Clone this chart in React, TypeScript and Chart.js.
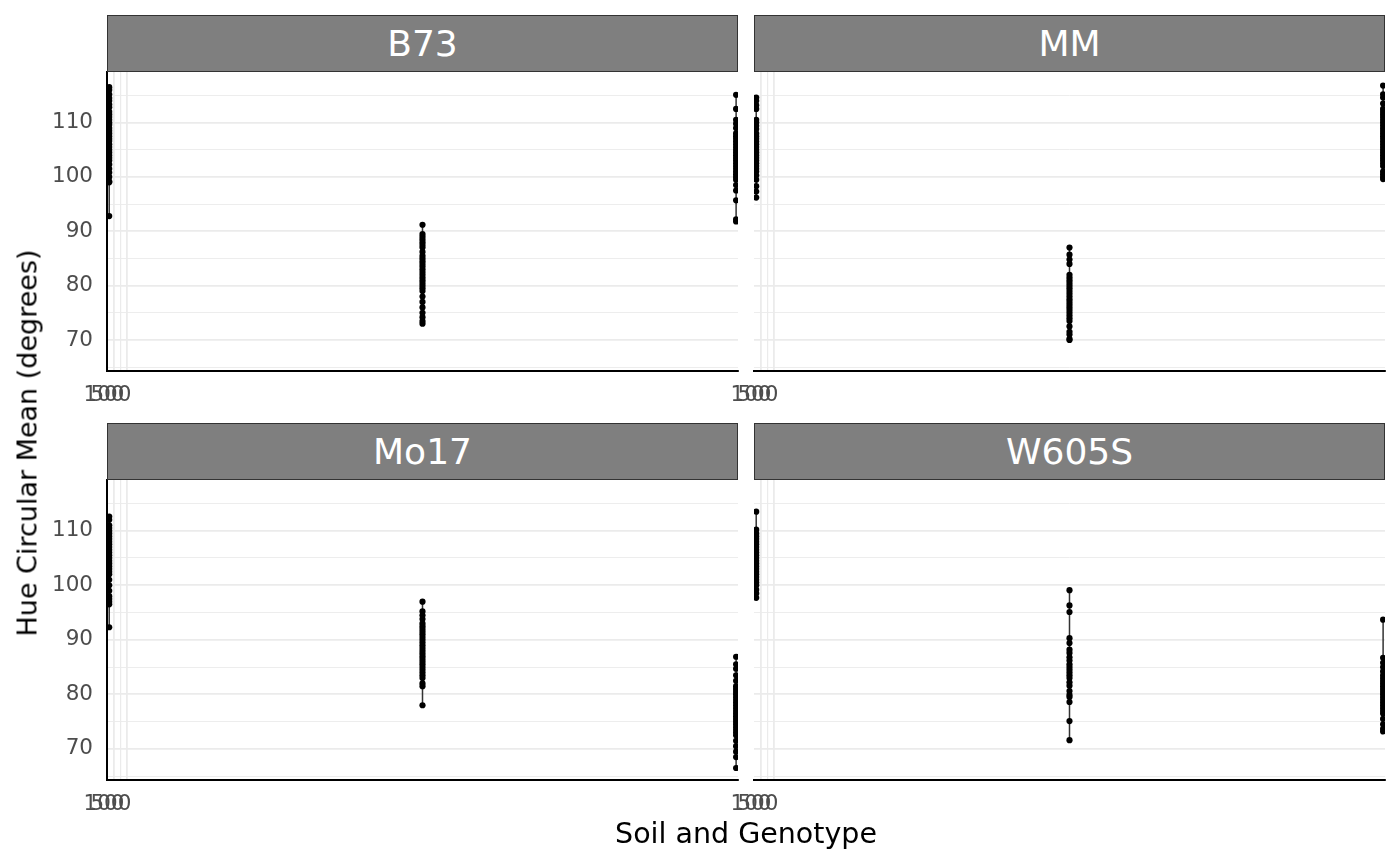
import { useEffect, useRef } from "react";
import { Chart, registerables } from "chart.js";

Chart.register(...registerables);

// ---------- data ----------
const genotypes = ["B73", "MM", "Mo17", "W605S"];
const groupPositions = [3.5, 500, 997];
const groupColors = ["#440154", "#21908C", "#FDE725"];

const yMin = 64.3;
const yMax = 119.3;
const yTickValues = [65, 70, 75, 80, 85, 90, 95, 100, 105, 110, 115];
const yTickLabels = ["", "70", "", "80", "", "90", "", "100", "", "110", ""];

const xMin = 0;
const xMax = 1000;
const xTickValues = [0, 11, 21.4, 31.7];
const xTickLabels = ["100", "500", "", ""];

const b73Left = [116.5, 116, 115.2, 114.5, 114, 113.3, 112.8, 112, 111.5, 111, 110.5, 110, 109.6, 109, 108.5, 108, 107.5, 107, 106.6, 106, 105.5, 105, 104.5, 104, 103.5, 103, 102.3, 101.5, 100.8, 100, 99.2, 99, 92.8];
const b73Mid = [91.2, 89.5, 89, 88.5, 88, 87.5, 87, 86.2, 85.5, 85, 84.5, 84, 83.5, 83, 82.5, 82, 81.5, 81, 80.5, 80, 79.5, 79, 78, 77, 76, 75, 74.2, 73.5, 73];
const b73Right = [115.1, 112.5, 110.5, 109.8, 109, 108, 107.5, 107, 106.5, 106, 105.5, 105, 104.5, 104, 103.5, 103, 102.5, 102, 101.5, 101, 100.5, 100, 99.5, 98.5, 97.5, 95.7, 92.2, 91.8];

const mmLeft = [114.6, 114, 113.2, 112.5, 110.5, 110, 109.4, 108.8, 108, 107.5, 107, 106.5, 106, 105.5, 105, 104.5, 104, 103.5, 103, 102.5, 102, 101.5, 101, 100.3, 99.5, 98.3, 97.3, 96.2];
const mmMid = [87, 85.7, 84.8, 84, 82, 81.5, 81, 80.5, 80, 79.5, 79, 78.5, 78, 77.5, 77, 76.5, 76, 75.5, 75, 74.5, 74, 73.5, 72.5, 71.5, 71, 70.2, 70];
const mmRight = [116.8, 115.2, 114.6, 113.5, 112.5, 112, 111.5, 111, 110.5, 110, 109.5, 109, 108.5, 108, 107.5, 107, 106.5, 106, 105.5, 105, 104.5, 104, 103.5, 103, 102.5, 102, 101, 100.5, 100, 99.6];

const mo17Left = [112.6, 112, 111, 110.5, 110, 109.5, 109, 108.5, 108, 107.5, 107, 106.5, 106, 105.5, 105, 104.5, 104, 103.5, 103, 102.5, 102, 101, 100, 99, 98, 97.5, 97, 96.5, 92.3];
const mo17Mid = [97, 95.2, 94.5, 93.8, 93, 92.5, 92, 91.5, 91, 90.5, 90, 89.5, 89, 88.5, 88, 87.5, 87, 86.5, 86, 85.5, 85, 84.5, 84, 83.5, 83, 82, 81.5, 78];
const mo17Right = [86.9, 85.5, 84.7, 83.5, 82.5, 81.5, 81, 80.5, 80, 79.5, 79, 78.5, 78, 77.5, 77, 76.5, 76, 75.5, 75, 74.5, 74, 73.5, 73, 72.5, 71.5, 70.5, 69.5, 68.5, 66.5];

const w605sLeft = [113.5, 110.2, 109.5, 109, 108.5, 108, 107.5, 107, 106.5, 106, 105.5, 105, 104.5, 104, 103.5, 103, 102.5, 102, 101.5, 101, 100.5, 100, 99.2, 98.5, 97.7];
const w605sMid = [99.1, 96.3, 95.1, 90.3, 89.4, 88.2, 87.6, 86.8, 86.2, 85.5, 85, 84.5, 84, 83.5, 83, 82.2, 81.6, 80.6, 79.9, 79.5, 78.6, 75.1, 71.6];
const w605sRight = [93.7, 86.7, 85.8, 85, 84.2, 83.5, 83, 82.5, 82, 81.5, 81, 80.5, 80, 79.5, 79, 78.5, 78, 77.5, 77, 76.5, 75.5, 74.5, 73.7, 73.2];

const panelGroups = [
  [b73Left, b73Mid, b73Right],
  [mmLeft, mmMid, mmRight],
  [mo17Left, mo17Mid, mo17Right],
  [w605sLeft, w605sMid, w605sRight],
];

// ---------- helpers ----------
function quantile(values: number[], p: number) {
  const s = [...values].sort((a, b) => a - b);
  const h = (s.length - 1) * p;
  const lo = Math.floor(h);
  const hi = Math.ceil(h);
  return s[lo] + (s[hi] - s[lo]) * (h - lo);
}

const FONT = "'DejaVu Sans', 'Liberation Sans', sans-serif";

type PanelProps = {
  index: number;
  left: number;
  top: number;
  width: number;
  height: number;
  padding: { left: number; right: number; top: number; bottom: number };
  showY: boolean;
};

function Panel({ index, left, top, width, height, padding, showY }: PanelProps) {
  const ref = useRef<HTMLCanvasElement | null>(null);

  useEffect(() => {
    if (!ref.current) return;
    const groups = panelGroups[index];
    const points: { x: number; y: number }[] = [];
    const boxes: { x: number; y: number[] }[] = [];
    const whiskers: { x: number; y: number | null }[] = [];
    groups.forEach((vals, g) => {
      vals.forEach((v) => points.push({ x: groupPositions[g], y: v }));
      boxes.push({ x: groupPositions[g], y: [quantile(vals, 0.25), quantile(vals, 0.75)] });
      whiskers.push({ x: groupPositions[g], y: Math.min(...vals) });
      whiskers.push({ x: groupPositions[g], y: Math.max(...vals) });
      whiskers.push({ x: groupPositions[g], y: null });
    });

    const chart = new Chart(ref.current, {
      type: "scatter",
      data: {
        datasets: [
          {
            type: "scatter",
            data: points,
            pointRadius: 3.1,
            pointBackgroundColor: "#000000",
            pointBorderWidth: 0,
            clip: 0,
            order: 0,
          } as any,
          {
            type: "bar",
            data: boxes,
            backgroundColor: groupColors,
            barThickness: 2,
            grouped: false,
            clip: 0,
            order: 1,
          } as any,
          {
            type: "line",
            data: whiskers,
            borderColor: "#333333",
            borderWidth: 1.5,
            pointRadius: 0,
            spanGaps: false,
            clip: 0,
            order: 2,
          } as any,
        ],
      },
      options: {
        animation: false,
        responsive: false,
        events: [],
        layout: { padding },
        plugins: { legend: { display: false }, tooltip: { enabled: false } },
        scales: {
          x: {
            type: "linear",
            offset: false,
            min: xMin,
            max: xMax,
            afterBuildTicks: (s: any) => {
              s.ticks = xTickValues.map((v) => ({ value: v }));
            },
            afterFit: (s: any) => {
              s.height = 45;
            },
            grid: {
              offset: false,
              drawTicks: false,
              color: (c: any) => (c.index === 0 ? "rgba(0,0,0,0)" : "#EBEBEB"),
              lineWidth: (c: any) => (c.index === 2 ? 1.2 : 1.8),
            },
            border: { display: true, color: "#000000", width: 2 },
            ticks: {
              autoSkip: false,
              maxRotation: 0,
              minRotation: 0,
              labelOffset: -3,
              padding: 12,
              color: "#4D4D4D",
              font: { family: FONT, size: 21.5 },
              callback: (_v: any, i: number) => xTickLabels[i],
            },
          },
          y: {
            type: "linear",
            min: yMin,
            max: yMax,
            afterBuildTicks: (s: any) => {
              s.ticks = yTickValues.map((v) => ({ value: v }));
            },
            afterFit: (s: any) => {
              s.width = showY ? 107 : 0;
            },
            grid: {
              drawTicks: false,
              color: "#EBEBEB",
              lineWidth: (c: any) => (c.tick && c.tick.value % 10 === 0 ? 1.8 : 0.9),
            },
            border: { display: showY, color: "#000000", width: 2 },
            ticks: {
              display: showY,
              autoSkip: false,
              padding: 14,
              color: "#4D4D4D",
              font: { family: FONT, size: 21.5 },
              callback: (_v: any, i: number) => yTickLabels[i],
            },
          },
        },
      } as any,
    });
    return () => chart.destroy();
  }, [index, showY]);

  return (
    <canvas
      ref={ref}
      width={width}
      height={height}
      style={{ position: "absolute", left, top, width, height }}
    />
  );
}

function Strip({ label, left, top }: { label: string; left: number; top: number }) {
  return (
    <div
      style={{
        position: "absolute",
        left,
        top,
        width: 631,
        height: 57,
        boxSizing: "border-box",
        background: "#7F7F7F",
        border: "1px solid #333333",
        color: "#FFFFFF",
        fontFamily: FONT,
        fontSize: 36,
        display: "flex",
        alignItems: "center",
        justifyContent: "center",
      }}
    >
      {label}
    </div>
  );
}

export default function App() {
  return (
    <div
      style={{
        position: "absolute",
        left: 0,
        top: 0,
        width: 1400,
        height: 865,
        background: "#FFFFFF",
        overflow: "hidden",
      }}
    >
      <Panel index={0} left={0} top={40} width={746} height={390} padding={{ left: 0, right: 8, top: 32, bottom: 14 }} showY />
      <Panel index={1} left={700} top={40} width={700} height={390} padding={{ left: 54, right: 15, top: 32, bottom: 14 }} showY={false} />
      <Panel index={2} left={0} top={448} width={746} height={400} padding={{ left: 0, right: 8, top: 32, bottom: 23 }} showY />
      <Panel index={3} left={700} top={448} width={700} height={400} padding={{ left: 54, right: 15, top: 32, bottom: 23 }} showY={false} />

      <Strip label={genotypes[0]} left={107} top={15} />
      <Strip label={genotypes[1]} left={754} top={15} />
      <Strip label={genotypes[2]} left={107} top={423} />
      <Strip label={genotypes[3]} left={754} top={423} />

      <div
        style={{
          position: "absolute",
          left: 27,
          top: 443,
          transform: "translate(-50%, -50%) rotate(-90deg)",
          whiteSpace: "nowrap",
          fontFamily: FONT,
          fontSize: 27,
          color: "#000000",
        }}
      >
        Hue Circular Mean (degrees)
      </div>
      <div
        style={{
          position: "absolute",
          left: 746,
          top: 833,
          transform: "translate(-50%, -50%)",
          whiteSpace: "nowrap",
          fontFamily: FONT,
          fontSize: 28.5,
          color: "#000000",
        }}
      >
        Soil and Genotype
      </div>
    </div>
  );
}
